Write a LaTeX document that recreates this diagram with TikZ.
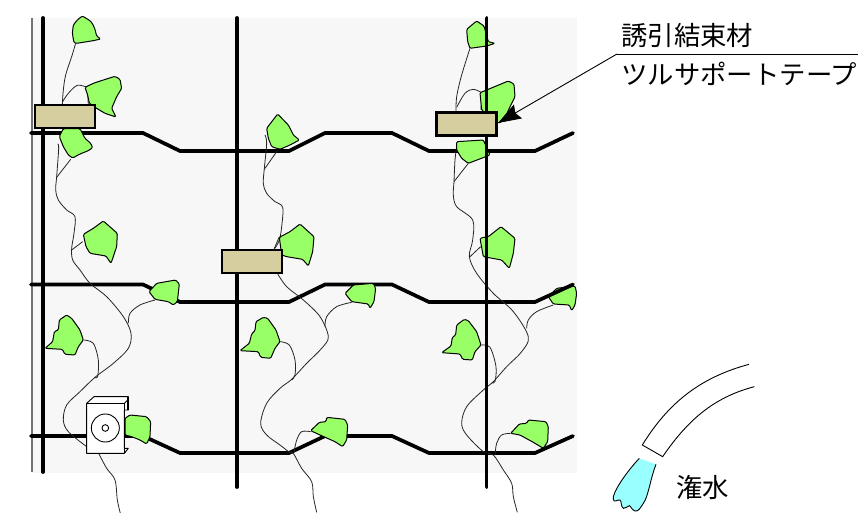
\documentclass[tikz,border=0pt]{standalone}
\usepackage{fontspec}
\newfontfamily\cjk{Noto Sans CJK JP}
\usetikzlibrary{arrows.meta}
\definecolor{leafg}{HTML}{99FF66}
\definecolor{tan}{HTML}{D6CE9E}
\definecolor{water}{HTML}{99FFFF}
\definecolor{bgg}{HTML}{F7F7F7}
\tikzset{
  pane/.style={x=.33333pt,y=-.33333pt},
  leaf/.style={draw=black,fill=leafg,line width=1pt,rounded corners=1.2pt,line join=round},
  stem/.style={draw=black!85,line width=.8pt},
  wave/.style={draw=black,line width=3.7pt,line join=miter},
  post/.style={draw=black,line width=3.8pt,line cap=round},
  tape/.style={draw=black,fill=tan,line width=2.3pt},
  lab/.style={font=\cjk\fontsize{26.4}{26.4}\selectfont,inner sep=0pt,anchor=base west},
  thin/.style={draw=black,line width=.9pt}
}
\newcommand{\stm}[1]{\draw[stem] plot[smooth,tension=.55] coordinates {#1};}
\begin{document}
\begin{tikzpicture}[x=1pt,y=-1pt]
\useasboundingbox (0,0) rectangle (858,513);
\fill[bgg] (32,18) rectangle (577,473);
% wires
\draw[post,draw=black!55,line width=1.1pt,line cap=butt] (32,18) -- (32,472);
\draw[post] (43,18) -- (43,472);
\draw[post] (237,18) -- (237,487);
% one leaf under wire
\begin{scope}[pane,shift={(840,780)}]
\draw[leaf] (805,110)--(830,85)--(885,78)--(890,100)--(885,135)--(875,152)--(868,135)--(820,132)--cycle;
\end{scope}
\draw[wave,line cap=round] (31,133)--(143,133)--(180,151)--(289,151)--(325,133)--(392,133)--(429,151)--(535,151)--(573,133);
\draw[wave,line cap=round] (31,284.5)--(143,284.5)--(180,302)--(289,302)--(325,284.5)--(392,284.5)--(429,302)--(535,302)--(573,284.5);
\draw[wave,line cap=round] (31,436)--(143,436)--(180,453)--(289,453)--(325,436)--(392,436)--(429,453)--(535,453)--(573,436);
% panel 1
\begin{scope}[pane]
\stm{(227,130)(215,170)(197,225)(190,270)(187,312)}
\stm{(188,305)(205,280)(232,256)(262,262)}
\draw[stem] (262,262)--(265,315);
\stm{(173,432)(176,445)(170,530)(167,570)(175,600)(200,630)(225,650)(222,700)(215,745)(218,780)(240,810)(270,850)(320,890)(370,950)(393,1000)(385,1045)(340,1090)(285,1132)(240,1175)(200,1215)(190,1260)(205,1295)(260,1340)}
\stm{(297,1362)(320,1405)(345,1440)(352,1500)(361,1540)}
\draw[stem] (212,478)--(170,532);
\draw[stem] (215,750)--(248,725);
\stm{(465,900)(420,915)(390,940)(385,970)}
\stm{(250,1020)(280,1030)(295,1080)(293,1130)(285,1132)}
\stm{(795,405)(800,430)(793,505)(790,550)(800,580)(825,605)(848,622)(845,680)(838,720)(825,745)}
\draw[stem] (832,452)--(793,508);
\stm{(832,820)(860,860)(910,900)(960,950)(985,1010)(965,1045)(920,1090)(875,1138)(840,1165)(800,1210)(782,1270)(800,1305)(840,1335)(870,1358)(880,1360)(905,1405)(935,1445)(940,1490)(950,1537)}
\stm{(932,1295)(905,1295)(890,1320)(882,1358)}
\stm{(840,1025)(868,1035)(885,1080)(885,1125)(875,1140)}
\draw[stem] (838,710)--(822,748);
\draw[leaf] (247,48)--(270,62)--(278,72)--(285,88)--(290,108)--(302,117)--(280,122)--(230,130)--(222,128)--(217,100)--(220,75)--(232,60)--cycle;
\draw[leaf] (255,262)--(280,250)--(310,240)--(345,229)--(360,238)--(365,265)--(350,290)--(335,325)--(348,351)--(315,340)--(285,322)--(268,310)--(263,285)--cycle;
\draw[leaf] (190,386)--(240,386)--(255,415)--(272,430)--(278,443)--(265,452)--(240,462)--(218,474)--(205,465)--(190,440)--(178,410)--cycle;
\draw[leaf] (250,703)--(280,685)--(310,663)--(352,700)--(350,740)--(333,790)--(318,768)--(270,760)--(258,740)--cycle;
\draw[leaf] (447,875)--(470,850)--(527,840)--(538,852)--(532,905)--(520,915)--(505,905)--(465,898)--cycle;
\draw[leaf] (135,1045)--(158,1025)--(163,995)--(175,990)--(178,960)--(200,945)--(215,955)--(240,990)--(250,1020)--(235,1040)--(225,1065)--(195,1063)--(187,1048)--cycle;
\draw[leaf] (800,385)--(833,342)--(865,375)--(880,405)--(898,420)--(870,435)--(840,448)--(815,440)--(805,415)--cycle;
\draw[leaf] (720,1052)--(748,1030)--(755,1002)--(765,992)--(768,965)--(790,952)--(803,955)--(828,990)--(840,1025)--(825,1045)--(812,1075)--(782,1072)--(775,1055)--cycle;
\draw[leaf] (838,712)--(870,695)--(900,672)--(942,710)--(938,755)--(925,798)--(908,778)--(860,770)--(845,765)--cycle;
\end{scope}
% panel 3 and 4
\begin{scope}[pane,shift={(840,0)}]
\stm{(570,145)(545,225)(530,290)(528,335)}
\stm{(530,322)(555,280)(580,268)(605,278)}
\draw[stem] (605,278)--(603,330);
\stm{(530,440)(525,480)(522,545)(520,585)(530,620)(578,660)(578,720)(568,770)(590,820)(640,880)(700,935)(745,1010)(725,1055)(680,1100)(640,1145)(610,1170)(560,1220)(545,1270)(560,1305)(610,1355)(640,1365)(670,1410)(695,1450)(700,1490)(712,1537)}
\draw[stem] (565,490)--(522,545);
\draw[stem] (570,770)--(602,740);
\stm{(603,1035)(630,1042)(648,1100)(645,1145)(635,1148)}
\stm{(215,907)(170,920)(140,950)(135,980)}
\stm{(820,915)(770,935)(745,960)(740,985)}
\stm{(692,1300)(665,1305)(650,1330)(645,1365)}
\draw[leaf] (560,88)--(590,63)--(612,78)--(625,125)--(645,130)--(620,138)--(570,145)--(563,125)--cycle;
\draw[leaf] (600,278)--(620,270)--(685,243)--(702,252)--(705,290)--(690,320)--(672,360)--(655,370)--(605,330)--cycle;
\draw[leaf] (530,425)--(610,420)--(630,465)--(565,490)--(545,475)--(530,450)--cycle;
\draw[leaf] (600,715)--(612,712)--(625,710)--(663,680)--(705,715)--(700,760)--(688,805)--(665,780)--(610,770)--cycle;
\draw[leaf] (195,880)--(220,855)--(280,850)--(287,865)--(282,905)--(270,925)--(265,912)--(215,905)--cycle;
\draw[leaf] (485,1058)--(513,1038)--(517,1012)--(527,1005)--(530,975)--(553,958)--(565,962)--(590,995)--(603,1035)--(585,1055)--(577,1080)--(548,1078)--(540,1062)--cycle;
\draw[leaf] (92,1292)--(118,1267)--(138,1265)--(140,1252)--(195,1258)--(203,1275)--(200,1320)--(188,1340)--(165,1325)--(120,1305)--cycle;
\draw[leaf] (692,1300)--(718,1272)--(740,1270)--(745,1260)--(798,1265)--(805,1280)--(803,1325)--(790,1345)--(760,1327)--(720,1305)--cycle;
\end{scope}
\draw[post] (486.5,18) -- (486.5,487);
% tapes
\node[tape,inner sep=0pt,minimum width=60pt,minimum height=23pt] (tapeA) at (65,116.5) {};
\node[tape,inner sep=0pt,minimum width=60pt,minimum height=23pt] (tapeB) at (252,261.5) {};
\node[tape,inner sep=0pt,minimum width=60pt,minimum height=23pt] (tapeC) at (466.5,124) {};
% box on the left
\begin{scope}[pane,shift={(0,780)}]
\draw[leaf] (375,475)--(390,465)--(440,470)--(452,485)--(450,530)--(440,552)--(420,540)--(395,530)--(375,525)--cycle;
\draw[thin,fill=white,line join=round] (260,430)--(282,410)--(385,410)--(385,450)--(373,450)--(373,565)--(385,565)--(373,580)--(260,580)--cycle;
\draw[thin] (260,430)--(373,430)--(373,580);
\draw[thin] (373,430)--(385,418);
\draw[draw=black,line width=1.8pt] (385,410)--(385,450);
\draw[thin] (316,504) circle (42);
\draw[thin] (316,504) circle (10);
\end{scope}
% hose
\begin{scope}[pane,shift={(1770,1020)}]
\draw[thin] (477,73) .. controls (340,110) and (240,180) .. (157,315) -- (218,350) .. controls (300,230) and (380,170) .. (493,140);
\fill[water] (148,355)--(198,373) .. controls (180,420) and (175,470) .. (160,490) .. controls (150,505) and (145,515) .. (135,513) .. controls (125,510) and (122,497) .. (118,497) .. controls (110,497) and (108,508) .. (100,505) .. controls (92,500) and (95,482) .. (90,480) .. controls (82,478) and (72,490) .. (70,478) .. controls (65,460) and (110,395) .. (148,355) -- cycle;
\draw[thin] (198,373) .. controls (180,420) and (175,470) .. (160,490) .. controls (150,505) and (145,515) .. (135,513) .. controls (125,510) and (122,497) .. (118,497) .. controls (110,497) and (108,508) .. (100,505) .. controls (92,500) and (95,482) .. (90,480) .. controls (82,478) and (72,490) .. (70,478) .. controls (65,460) and (110,395) .. (148,355);
\end{scope}
% labels
\node[lab] (lbA) at (621,45.5) {誘引結束材};
\node[lab] (lbB) at (621,84.5) {ツルサポートテープ};
\node[lab] (lbC) at (676,497) {潅水};
\coordinate (ruleL) at (617,54);
\coordinate (ruleR) at (858,54);
\coordinate (tipC) at (498,123);
\draw[thin] (ruleL) -- (ruleR);
\draw[thin,-{Stealth[length=23pt,width=16pt,inset=3pt]}] (ruleL) -- (tipC);
\end{tikzpicture}
\end{document}
